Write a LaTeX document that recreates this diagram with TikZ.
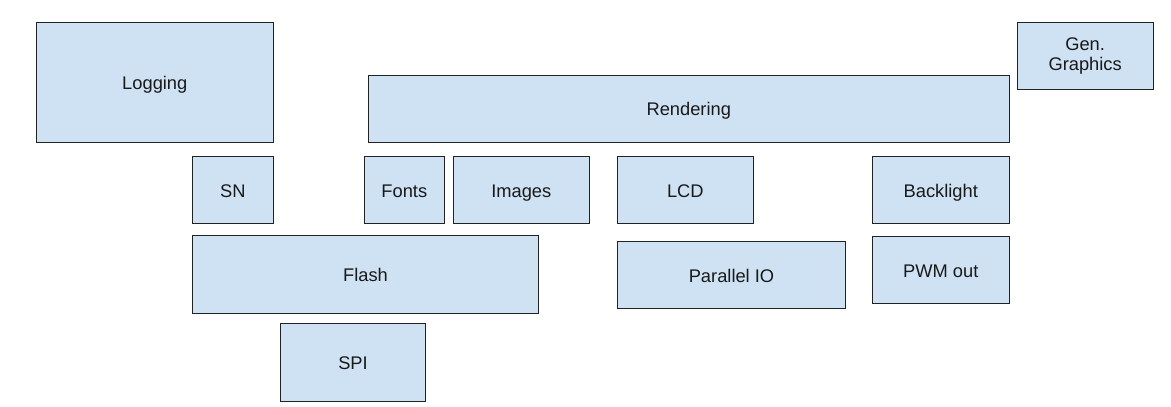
\documentclass[tikz,border=0pt]{standalone}
\usepackage{fontspec}
\setmainfont{Liberation Sans}
\definecolor{boxfill}{HTML}{CFE2F3}
\definecolor{boxline}{HTML}{222222}
\tikzset{
  base/.style={draw=boxline, fill=boxfill, line width=1pt, inner sep=0pt, outer sep=0pt,
    align=center, font=\fontsize{18.3}{20}\selectfont, text=black!90},
  blk/.style={base, text height=14.6pt, text depth=0pt}
}
\newcommand{\bx}[6]{%
  \node[blk, minimum width={(#4-#2)*1pt}, minimum height={(#5-#3)*1pt}] (#1) at ({(#2+#4)/2},{(#3+#5)/2}) {#6};}
\begin{document}
\begin{tikzpicture}[x=1pt,y=-1pt]
\useasboundingbox (0,0) rectangle (1171,407);
\bx{logging}{36.3}{22.3}{273.3}{142}{Logging}
\node[base, minimum width=136.3pt, minimum height=66.7pt] (gen) at (1085.15,55.65) {Gen.\\Graphics};
\bx{rendering}{368.3}{75.3}{1009.3}{142}{Rendering}
\bx{sn}{192.3}{156.5}{273.3}{223}{SN}
\bx{fonts}{364.3}{156.5}{444.3}{223}{Fonts}
\bx{images}{453.3}{156.5}{589.3}{223}{Images}
\bx{lcd}{617.3}{156.5}{753.3}{223}{LCD}
\bx{backlight}{872.3}{156.5}{1009.3}{223}{Backlight}
\bx{flash}{192.3}{235.3}{538.7}{313.3}{Flash}
\bx{pio}{617.3}{241.3}{845.7}{308.3}{Parallel IO}
\bx{pwm}{872.3}{236.7}{1009.3}{303.3}{PWM out}
\bx{spi}{280.3}{323.3}{425.7}{401.7}{SPI}
\end{tikzpicture}
\end{document}
